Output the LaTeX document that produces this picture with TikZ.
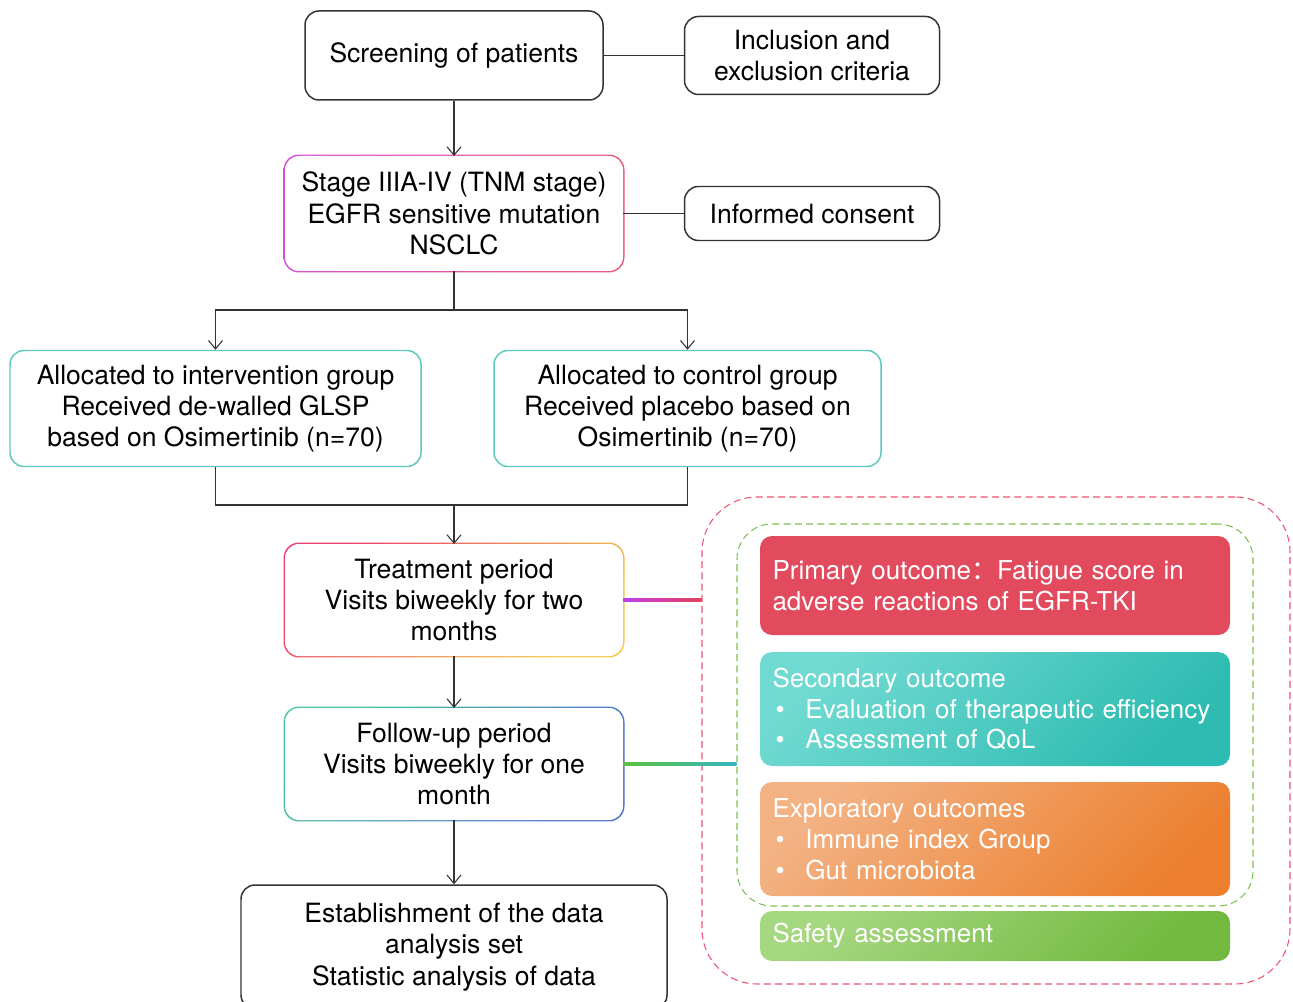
\documentclass[tikz,border=0pt]{standalone}
\usepackage{fontspec}
\setmainfont{TeX Gyre Heros}
\newfontfamily\cjkfont{Noto Sans CJK SC}
\usetikzlibrary{arrows.meta,positioning,calc,backgrounds}

\definecolor{tealline}{HTML}{5CC8C0}
\definecolor{stageA}{HTML}{D24FD8}
\definecolor{stageB}{HTML}{EA5B78}
\definecolor{treatA}{HTML}{EC3F6C}
\definecolor{treatB}{HTML}{F4C845}
\definecolor{followA}{HTML}{4CC79E}
\definecolor{followB}{HTML}{4F6FD2}
\definecolor{linkpurple}{HTML}{C23EE6}
\definecolor{linkred}{HTML}{E4405E}
\definecolor{linkgreen}{HTML}{5DC03E}
\definecolor{linkteal}{HTML}{34B6C4}
\definecolor{outerred}{HTML}{EB5470}
\definecolor{innergreen}{HTML}{7CBF4E}
\definecolor{primaryred}{HTML}{E24A5D}
\definecolor{secA}{HTML}{70DAD2}
\definecolor{secB}{HTML}{2EBBB1}
\definecolor{expA}{HTML}{F3B284}
\definecolor{expB}{HTML}{EC802F}
\definecolor{safeA}{HTML}{A6D781}
\definecolor{safeB}{HTML}{71BA3F}

\newcommand{\boxfont}{\fontsize{15.1}{17.8}\selectfont}
\newcommand{\outfont}{\fontsize{14.8}{17.6}\selectfont}
\newcommand{\bulletitem}{\hspace*{0.06cm}\makebox[0.6cm][l]{\textbullet}}

\begin{document}
\begin{tikzpicture}[>={Straight Barb[length=4.8pt,width=8pt]},
	box/.style={rectangle, rounded corners=0.28cm, draw=black!80, line width=0.85pt, align=center, font=\boxfont, inner sep=0pt},
	ringbox/.style={rectangle, rounded corners=0.28cm, fill=white, outer sep=0pt, align=center, font=\boxfont, inner sep=0pt},
	outcome/.style={rectangle, rounded corners=0.24cm, text=white, align=left, text width=8.9cm, inner xsep=0.22cm, minimum width=9.4cm, font=\outfont},
	dashbox/.style={rectangle, line width=0.6pt, dash pattern=on 4pt off 2.4pt},
	link/.style={line width=0.6pt, black!80}]

	\useasboundingbox (0,0) rectangle (25.86,-20.04);

	%flow nodes
	\node[box, minimum width=5.96cm, minimum height=1.78cm] (screen) at (9.08,-1.11) {Screening of patients};
	\node[box, minimum width=5.10cm, minimum height=1.56cm] (criteria) at (16.24,-1.11) {Inclusion and\\exclusion criteria};
	\node[ringbox, minimum width=6.76cm, minimum height=2.30cm] (stage) at (9.08,-4.27) {Stage IIIA-IV (TNM stage)\\EGFR sensitive mutation\\NSCLC};
	\node[box, minimum width=5.10cm, minimum height=1.08cm] (consent) at (16.24,-4.27) {Informed consent};
	\node[box, draw=tealline, minimum width=8.22cm, minimum height=2.32cm] (interv) at (4.31,-8.17) {Allocated to intervention group\\Received de-walled GLSP\\based on Osimertinib (n=70)};
	\node[box, draw=tealline, minimum width=7.74cm, minimum height=2.32cm] (control) at (13.75,-8.17) {Allocated to control group\\Received placebo based on\\Osimertinib (n=70)};
	\node[ringbox, minimum width=6.76cm, minimum height=2.24cm] (treat) at (9.08,-12.00) {Treatment period\\Visits biweekly for two\\months};
	\node[ringbox, minimum width=6.76cm, minimum height=2.24cm] (follow) at (9.08,-15.28) {Follow-up period\\Visits biweekly for one\\month};
	\node[box, minimum width=8.52cm, minimum height=2.48cm] (dataset) at (9.08,-18.94) {Establishment of the data\\analysis set\\Statistic analysis of data};

	%gradient borders
	\begin{scope}[on background layer]
		\shade[rounded corners=0.31cm, left color=stageA, right color=stageB] ($(stage.south west)+(-0.85pt,-0.85pt)$) rectangle ($(stage.north east)+(0.85pt,0.85pt)$);
		\shade[rounded corners=0.31cm, top color=treatA, bottom color=treatB, shading angle=45] ($(treat.south west)+(-0.85pt,-0.85pt)$) rectangle ($(treat.north east)+(0.85pt,0.85pt)$);
		\shade[rounded corners=0.31cm, top color=followA, bottom color=followB, shading angle=45] ($(follow.south west)+(-0.85pt,-0.85pt)$) rectangle ($(follow.north east)+(0.85pt,0.85pt)$);
	\end{scope}

	%outcome frames
	\node[dashbox, draw=outerred, rounded corners=1.1cm, minimum width=11.76cm, minimum height=9.74cm] (outcomes) at (19.92,-14.81) {};
	\node[dashbox, draw=innergreen, rounded corners=0.7cm, minimum width=10.32cm, minimum height=7.64cm] (efficacy) at (19.90,-14.30) {};

	%outcome boxes
	\node[outcome, fill=primaryred, minimum height=1.98cm] (primary) at (19.90,-11.71) {Primary outcome{\cjkfont ：}Fatigue score in\\adverse reactions of EGFR-TKI};
	\node[outcome, top color=secA, bottom color=secB, shading angle=45, minimum height=2.28cm] (secondary) at (19.90,-14.18) {Secondary outcome\\\mbox{\bulletitem Evaluation of therapeutic efficiency}\\\bulletitem Assessment of QoL};
	\node[outcome, top color=expA, bottom color=expB, shading angle=45, minimum height=2.28cm] (explore) at (19.90,-16.78) {Exploratory outcomes\\\bulletitem Immune index Group\\\bulletitem Gut microbiota};
	\node[outcome, top color=safeA, bottom color=safeB, shading angle=45, minimum height=1.00cm] (safety) at (19.90,-18.72) {Safety assessment};

	%edges
	\coordinate (split) at (9.08,-6.20);
	\coordinate (merge) at (9.08,-10.10);
	\draw[link,->] (screen) -- (stage);
	\draw[link] (screen) -- (criteria);
	\draw[link] (stage) -- (consent);
	\draw[link] (stage) -- (split);
	\draw[link,->] (split) -| (interv);
	\draw[link,->] (split) -| (control);
	\draw[link] (interv) |- (merge);
	\draw[link] (control) |- (merge);
	\draw[link,->] (merge) -- (treat);
	\draw[link,->] (treat) -- (follow);
	\draw[link,->] (follow) -- (dataset);

	%coloured links to outcomes
	\shade[left color=linkpurple, right color=linkred] ($(treat.east)+(0,0.9pt)$) rectangle ($(treat.east -| outcomes.west)+(0,-0.9pt)$);
	\shade[left color=linkgreen, right color=linkteal] ($(follow.east)+(0,0.9pt)$) rectangle ($(follow.east -| efficacy.west)+(0,-0.9pt)$);

\end{tikzpicture}
\end{document}
